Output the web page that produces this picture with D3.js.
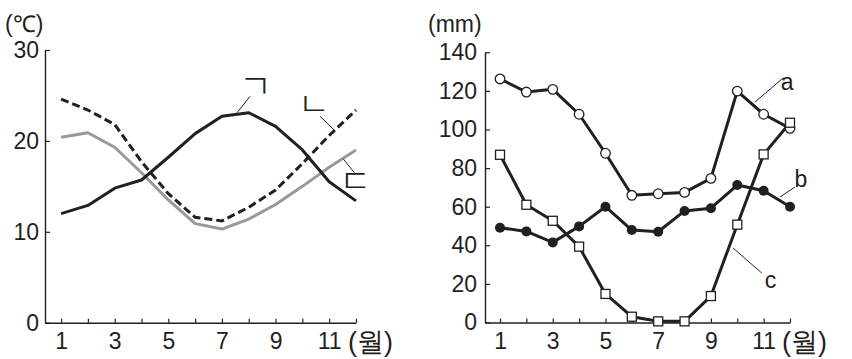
<!DOCTYPE html>
<html><head><meta charset="utf-8">
<script src="https://cdn.jsdelivr.net/npm/d3@7"></script>
<style>
html,body{margin:0;padding:0;background:#fff;}
text{font-family:"Liberation Sans",Arial,sans-serif;fill:#231f20;}
</style></head>
<body><svg id="c" width="852" height="359"></svg>
<script>
const months = [1,2,3,4,5,6,7,8,9,10,11,12];
const monthLabels = ["1","","3","","5","","7","","9","","11",""];
// Left: temperature (°C)
const tempG = [12.0,12.9,14.8,15.7,18.2,20.8,22.7,23.1,21.6,19.0,15.5,13.4];   // ㄱ solid black
const tempN = [24.6,23.4,21.8,17.7,14.2,11.6,11.2,12.7,14.6,17.5,20.6,23.4];   // ㄴ dashed
const tempD = [20.4,20.9,19.3,16.5,13.5,10.9,10.3,11.4,13.0,15.0,17.1,19.0];   // ㄷ gray
const tempTicks = [0,10,20,30];
// Right: precipitation (mm)
const rainA = [126.2,119.4,120.8,107.9,87.7,65.9,66.7,67.4,74.7,119.9,107.9,100.6];
const rainB = [49.1,47.2,41.5,49.8,60.0,47.9,47.0,57.8,59.2,71.2,68.3,60.0];
const rainC = [86.9,61.0,52.7,39.3,14.8,3.0,0.6,0.6,13.7,50.7,87.1,103.5];
const rainTicks = [0,20,40,60,80,100,120,140];

const svg = d3.select("#c");
const ink = "#231f20";

function axes(g, x, y, yTicks, pad, unit, unitX) {
  const xa = d3.axisBottom(x).tickValues(months).tickSizeInner(-4).tickSizeOuter(0)
    .tickPadding(10).tickFormat((d,i)=>monthLabels[i]);
  const xg = g.append("g").attr("transform",`translate(0,${y(0)})`).call(xa);
  xg.select(".domain").attr("stroke",ink).attr("stroke-width",1.4);
  xg.selectAll(".tick line").attr("stroke",ink).attr("stroke-width",1.2);
  xg.selectAll("text").attr("font-size",23).attr("dy","0.71em").attr("fill",ink);
  const ya = d3.axisLeft(y).tickValues(yTicks).tickSizeInner(-5).tickSizeOuter(0).tickPadding(pad);
  const yg = g.append("g").attr("transform",`translate(${x.range()[0]},0)`).call(ya);
  yg.select(".domain").attr("stroke",ink).attr("stroke-width",1.4);
  yg.selectAll(".tick line").attr("stroke",ink).attr("stroke-width",1.2);
  yg.selectAll("text").attr("font-size",23).attr("fill",ink);
  g.append("text").attr("x",x(12)-8).attr("y",y(0)+28).attr("font-size",27)
    .attr("font-family","'Noto Sans CJK KR',sans-serif").attr("font-weight",300).text("(월)");
  g.append("text").attr("x",unitX).attr("y",32).attr("font-size",23).text(unit);
}

// Left chart
const xL = d3.scaleLinear().domain([0.4,12]).range([45,356]);
const yL = d3.scaleLinear().domain([0,30]).range([322.7,50]);
const gL = svg.append("g");
axes(gL, xL, yL, tempTicks, 6, "(℃)", 5);
const lineL = d3.line().x((d,i)=>xL(months[i])).y(d=>yL(d));
gL.append("path").datum(tempD).attr("d",lineL).attr("fill","none").attr("stroke","#999999").attr("stroke-width",3).attr("stroke-linejoin","round");
gL.append("path").datum(tempN).attr("d",lineL).attr("fill","none").attr("stroke",ink).attr("stroke-width",3).attr("stroke-dasharray","8,4");
gL.append("path").datum(tempG).attr("d",lineL).attr("fill","none").attr("stroke",ink).attr("stroke-width",3).attr("stroke-linejoin","round");

const annL = [
  {t:"ㄱ", x1:7.56,y1:23.1,x2:8.05,y2:24.9, tx:8.28, ty:26.0},
  {t:"ㄴ", x1:10.66,y1:22.7,x2:11.22,y2:21.1, tx:10.44, ty:24.1},
  {t:"ㄷ", x1:11.53,y1:18.0,x2:11.94,y2:16.5, tx:11.99, ty:15.6}
];
annL.forEach(a=>{
  gL.append("line").attr("x1",xL(a.x1)).attr("y1",yL(a.y1)).attr("x2",xL(a.x2)).attr("y2",yL(a.y2)).attr("stroke",ink).attr("stroke-width",1);
  gL.append("text").attr("x",xL(a.tx)).attr("y",yL(a.ty)).attr("text-anchor","middle").attr("dominant-baseline","central")
    .attr("font-family","'Noto Sans CJK KR',sans-serif").attr("font-weight",300).attr("font-size",32).text(a.t);
});

// Right chart
const xR = d3.scaleLinear().domain([0.43,12]).range([485,790]);
const yR = d3.scaleLinear().domain([0,140]).range([322.5,52.3]);
const gR = svg.append("g");
axes(gR, xR, yR, rainTicks, 8, "(mm)", 428);
const lineR = d3.line().x((d,i)=>xR(months[i])).y(d=>yR(d));
[rainA, rainB, rainC].forEach(s=>{
  gR.append("path").datum(s).attr("d",lineR).attr("fill","none").attr("stroke",ink).attr("stroke-width",3).attr("stroke-linejoin","round");
});
gR.selectAll("circle.a").data(rainA).join("circle").attr("cx",(d,i)=>xR(months[i])).attr("cy",d=>yR(d)).attr("r",4.8)
  .attr("fill","#fff").attr("stroke",ink).attr("stroke-width",1.3);
gR.selectAll("circle.b").data(rainB).join("circle").attr("cx",(d,i)=>xR(months[i])).attr("cy",d=>yR(d)).attr("r",5)
  .attr("fill",ink);
gR.selectAll("rect.c").data(rainC).join("rect").attr("x",(d,i)=>xR(months[i])-4.5).attr("y",d=>yR(d)-4.5).attr("width",9).attr("height",9)
  .attr("fill","#fff").attr("stroke",ink).attr("stroke-width",1.3);

const annR = [
  {t:"a", x1:10.67,y1:114.2,x2:11.74,y2:126.7, tx:11.89, ty:120.4},
  {t:"b", x1:11.62,y1:65.0,x2:12.19,y2:70.2, tx:12.41, ty:70.2},
  {t:"c", x1:9.84,y1:38.6,x2:10.93,y2:25.6, tx:11.26, ty:17.9}
];
annR.forEach(a=>{
  gR.append("line").attr("x1",xR(a.x1)).attr("y1",yR(a.y1)).attr("x2",xR(a.x2)).attr("y2",yR(a.y2)).attr("stroke",ink).attr("stroke-width",1);
  gR.append("text").attr("x",xR(a.tx)).attr("y",yR(a.ty)).attr("text-anchor","middle").attr("font-size",23).text(a.t);
});
</script></body></html>
